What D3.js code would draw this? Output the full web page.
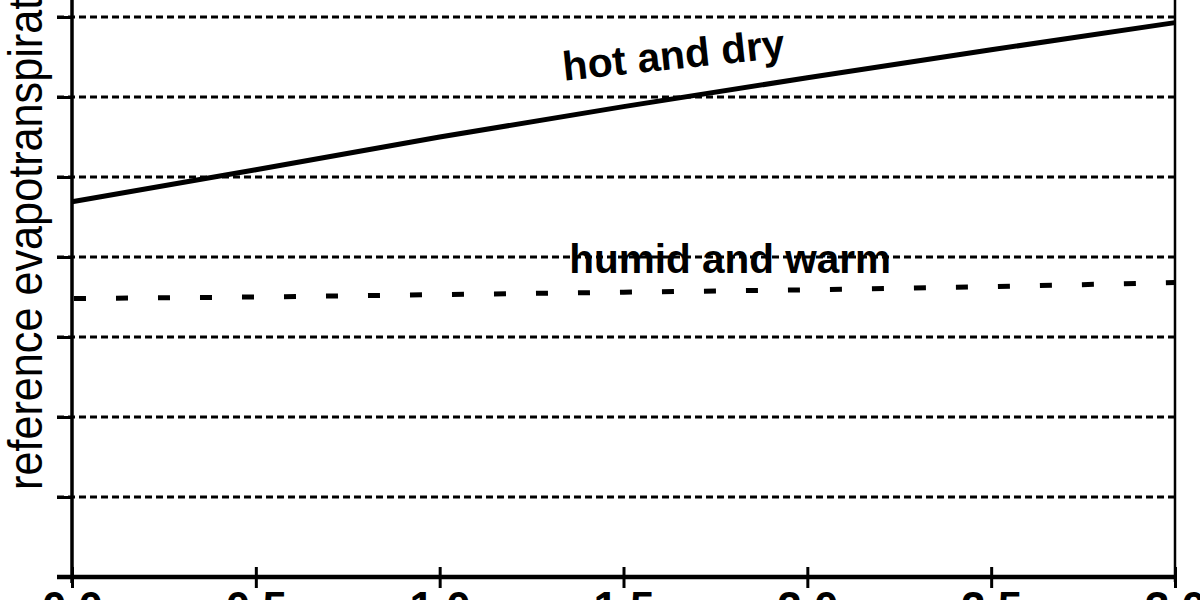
<!DOCTYPE html>
<html>
<head>
<meta charset="utf-8">
<script src="https://cdn.jsdelivr.net/npm/d3@7"></script>
<style>
body { margin:0; background:#fff; overflow:hidden; }
svg { display:block; }
text { font-family: "Liberation Sans", Arial, sans-serif; fill:#000; }
</style>
</head>
<body>
<div class="visualisation"></div>
<script>
// data
var xValues = [0, 0.5, 1, 1.5, 2, 2.5, 3];
var xTickLabels = ["0.0", "0.5", "1.0", "1.5", "2.0", "2.5", "3.0"];
var yTicks = [0, 1, 2, 3, 4, 5, 6, 7];
var hotDry = [4.69, 5.09, 5.50, 5.88, 6.24, 6.59, 6.93];
var humidWarm = [3.48, 3.50, 3.53, 3.56, 3.59, 3.63, 3.68];
var seriesNames = ["hot and dry", "humid and warm"];
var yTitle = "reference evapotranspiration (mm/day)";

var margin = {top:0, right:25, bottom:23, left:72},
	width = 1200 - margin.left - margin.right,
	height = 600 - margin.top - margin.bottom;

var svg = d3.select(".visualisation").append("svg")
    .attr("width", 1200)
    .attr("height", 600)
  .append("g")
    .attr("transform", "translate(" + margin.left + "," + margin.top + ")");

var x = d3.scaleLinear().domain([0, 3]).range([0, width]);
var y = d3.scaleLinear().domain([0, 7]).range([height, height - 7*80]);

// dotted grid lines
svg.append('g')
	.selectAll('line')
	.data(yTicks.filter(d => d > 0))
	.enter().append('line')
	.attr('x1', -15)
	.attr('x2', width)
	.attr('y1', d => y(d))
	.attr('y2', d => y(d))
	.attr('stroke', '#000')
	.attr('stroke-width', 3)
	.attr('stroke-dasharray', '7,4');

// left axis
var yAxis = svg.append('g')
	.attr('class', 'y-axis')
	.call(d3.axisLeft(y).tickValues(yTicks).tickFormat('').tickSize(15).tickSizeOuter(0));
yAxis.select('.domain').remove();
yAxis.selectAll('line').attr('stroke-width', 3);
svg.append('line')
	.attr('x1', 0).attr('x2', 0)
	.attr('y1', 0).attr('y2', height + 6)
	.attr('stroke', '#000').attr('stroke-width', 3.5);

// right frame
svg.append('line')
	.attr('x1', width).attr('x2', width)
	.attr('y1', 0).attr('y2', height + 5)
	.attr('stroke', '#000').attr('stroke-width', 2.5);

// bottom axis
var xAxis = svg.append('g')
	.attr('class', 'x-axis')
	.attr('transform', 'translate(0,' + height + ')')
	.call(d3.axisBottom(x).tickValues(xValues)
		.tickFormat((d, i) => xTickLabels[i]).tickSize(11).tickSizeOuter(0));
xAxis.select('.domain').remove();
xAxis.selectAll('.tick line')
	.attr('y1', -10)
	.attr('stroke-width', 3);
xAxis.selectAll('.tick text')
	.attr('y', 46)
	.attr('dy', 0)
	.style('font-size', '44px')
	.style('font-weight', 'bold');
svg.append('line')
	.attr('x1', -15).attr('x2', width)
	.attr('y1', height).attr('y2', height)
	.attr('stroke', '#000').attr('stroke-width', 4.5);

// series lines
var line = d3.line()
	.x((d, i) => x(xValues[i]))
	.y(d => y(d));

svg.append('path')
	.datum(hotDry)
	.attr('d', line)
	.attr('fill', 'none')
	.attr('stroke', '#000')
	.attr('stroke-width', 5);

svg.append('path')
	.datum(humidWarm)
	.attr('d', line)
	.attr('fill', 'none')
	.attr('stroke', '#000')
	.attr('stroke-width', 5)
	.attr('stroke-dasharray', '12,30')
	.attr('stroke-dashoffset', -2);

// series labels
svg.append('text')
	.attr('transform', 'translate(' + (x(1.64)) + ',' + 69 + ') rotate(-6)')
	.attr('text-anchor', 'middle')
	.style('font-size', '41px')
	.style('font-weight', 'bold')
	.text(seriesNames[0]);

svg.append('text')
	.attr('x', x(1.79))
	.attr('y', 273)
	.attr('text-anchor', 'middle')
	.style('font-size', '40.5px')
	.style('font-weight', 'bold')
	.text(seriesNames[1]);

// y title (runs off the top like the scan)
d3.select('svg').append('text')
	.attr('transform', 'translate(42,490) rotate(-90) scale(0.9,1)')
	.attr('text-anchor', 'start')
	.style('font-size', '48px')
	.text(yTitle);
</script>
</body>
</html>
